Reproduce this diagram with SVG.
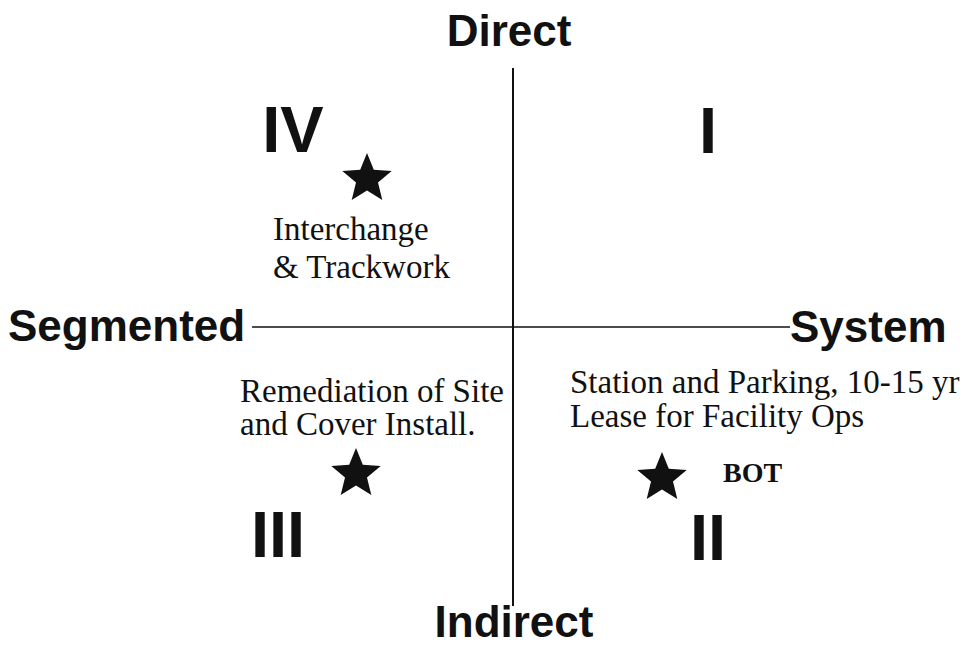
<svg xmlns="http://www.w3.org/2000/svg" width="963" height="647" viewBox="0 0 963 647">
  <defs>
    <style>
      .axis { font-family: "Liberation Sans", Arial, sans-serif; font-weight: bold; font-size: 44px; fill: #111; }
      .quad { font-family: "Liberation Sans", Arial, sans-serif; font-weight: bold; font-size: 65px; fill: #111; text-anchor: middle; }
      .note { font-family: "Liberation Serif", "Times New Roman", serif; font-size: 33px; fill: #111; }
      .bold { font-weight: bold; font-size: 28px; }
      .line { stroke: #111; fill: none; }
      .star { fill: #111; }
    </style>
    <!-- five-pointed star, outer radius 26, centred on origin -->
    <polygon id="star" class="star" points="0,-26 6.8,-9.3 24.7,-8.0 11.0,3.6 15.3,21.0 0,11.5 -15.3,21.0 -11.0,3.6 -24.7,-8.0 -6.8,-9.3"/>
  </defs>
  <rect width="963" height="647" fill="#fff"/>

  <!-- axes -->
  <g id="connectors">
    <line class="line" x1="513" y1="68" x2="513" y2="606" stroke-width="2"/>
    <line class="line" x1="252" y1="327" x2="790" y2="327" stroke-width="1.6"/>
  </g>

  <!-- axis labels -->
  <g id="axis-labels">
    <text class="axis" x="509" y="46" text-anchor="middle">Direct</text>
    <text class="axis" x="514" y="637" text-anchor="middle">Indirect</text>
    <text class="axis" x="8" y="341">Segmented</text>
    <text class="axis" x="790" y="342">System</text>
  </g>

  <!-- quadrant numerals -->
  <g id="quadrant-I"><text class="quad" x="708" y="153">I</text></g>
  <g id="quadrant-II"><text class="quad" x="708" y="560">II</text></g>
  <g id="quadrant-III"><text class="quad" x="278" y="557">III</text></g>
  <g id="quadrant-IV"><text class="quad" x="293" y="152">IV</text></g>

  <!-- project markers -->
  <g id="interchange">
    <use href="#star" x="367" y="179"/>
    <text class="note" x="273" y="240">Interchange</text>
    <text class="note" x="273" y="278">&amp; Trackwork</text>
  </g>
  <g id="remediation">
    <text class="note" x="240" y="402">Remediation of Site</text>
    <text class="note" x="240" y="435">and Cover Install.</text>
    <use href="#star" x="356" y="474"/>
  </g>
  <g id="station">
    <text class="note" x="570" y="393">Station and Parking, 10-15 yr</text>
    <text class="note" x="570" y="427">Lease for Facility Ops</text>
    <use href="#star" x="662" y="478"/>
    <text class="note bold" x="723" y="482">BOT</text>
  </g>
</svg>
